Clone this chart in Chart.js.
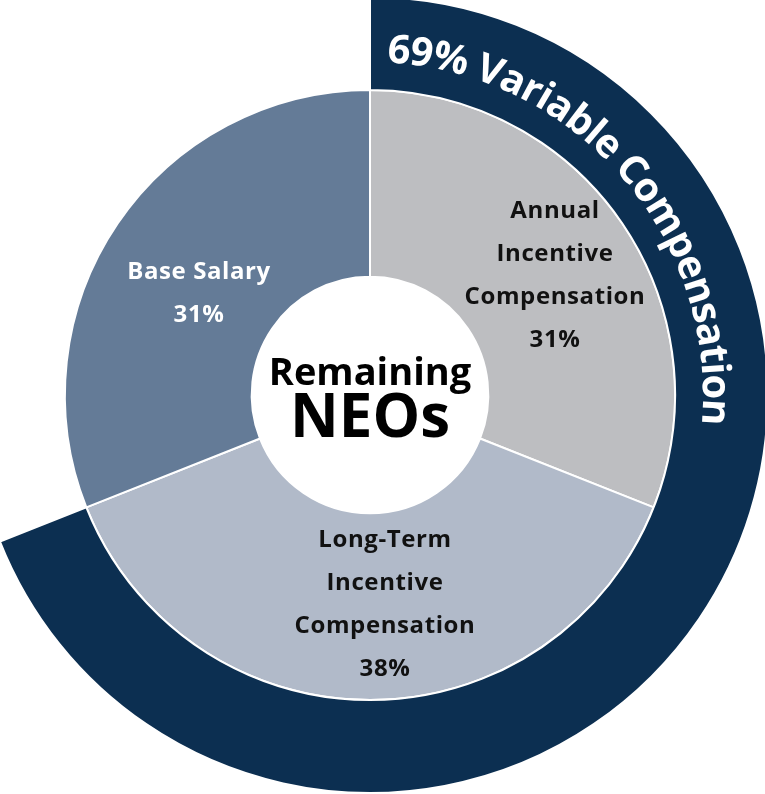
<!DOCTYPE html>
<html>
<head>
<meta charset="utf-8">
<script src="https://cdn.jsdelivr.net/npm/chart.js@4.4.1/dist/chart.umd.min.js"></script>
<style>
    html, body { margin: 0; padding: 0; background: #ffffff; overflow: hidden; width: 765px; height: 794px; }
    #wrap { position: absolute; left: -28px; top: -3px; width: 796px; height: 796px; }
</style>
</head>
<body>
<div id="wrap"><canvas id="GraficoNEOs" width="796" height="796"></canvas></div>
<script>
// pie slices, clockwise from 12 o'clock
var categorias = ["Annual Incentive Compensation", "Long-Term Incentive Compensation", "Base Salary"];
var valores = [31, 38, 31];
var rotulos = [
    ["Annual", "Incentive", "Compensation", "31%"],
    ["Long-Term", "Incentive", "Compensation", "38%"],
    ["Base Salary", "31%"]
];

// outer band
var variavel = [69, 31];
var tituloVariavel = "69% Variable Compensation";
var tituloCentro = ["Remaining", "NEOs"];

var cores = ["#bdbec1", "#b1bac9", "#647b97"];
var corVariavel = "#0c2f51";

var FONTE = "'Open Sans', 'DejaVu Sans', sans-serif";

var rotulosPlugin = {
    id: 'rotulos',
    afterDraw: function (chart) {
        var ctx = chart.ctx;
        var arco = chart.getDatasetMeta(1).data[0];
        var cx = arco.x, cy = arco.y;

        ctx.save();
        ctx.textAlign = "center";
        ctx.textBaseline = "alphabetic";

        // slice labels: [dx, first baseline dy, colour]
        var pos = [
            [185, -177, "#111111"],
            [15, 152, "#111111"],
            [-171, -116, "#ffffff"]
        ];
        ctx.font = "bold 24px " + FONTE;
        ctx.letterSpacing = "0.6px";
        for (var i = 0; i < rotulos.length; i++) {
            ctx.fillStyle = pos[i][2];
            for (var j = 0; j < rotulos[i].length; j++) {
                ctx.fillText(rotulos[i][j], cx + pos[i][0], cy + pos[i][1] + j * 43);
            }
        }
        ctx.letterSpacing = "0px";

        // centre title
        ctx.fillStyle = "#000000";
        ctx.font = "bold 38px " + FONTE;
        ctx.fillText(tituloCentro[0], cx, cy - 10);
        ctx.font = "bold 60px " + FONTE;
        ctx.fillText(tituloCentro[1], cx, cy + 42);

        // curved title along the band
        ctx.font = "bold 40px " + FONTE;
        ctx.fillStyle = "#ffffff";
        var raio = 333;
        var esp = -0.9;
        var larguras = [];
        var total = 0;
        for (var k = 0; k < tituloVariavel.length; k++) {
            var w = ctx.measureText(tituloVariavel[k]).width;
            larguras.push(w);
            total += w + (k < tituloVariavel.length - 1 ? esp : 0);
        }
        var meio = 49 * Math.PI / 180;
        var ang = meio - (total / 2) / raio;
        for (var m = 0; m < tituloVariavel.length; m++) {
            var a = ang + (larguras[m] / 2) / raio;
            ctx.save();
            ctx.translate(cx + raio * Math.sin(a), cy - raio * Math.cos(a));
            ctx.rotate(a);
            ctx.fillText(tituloVariavel[m], 0, 0);
            ctx.restore();
            ang += (larguras[m] + esp) / raio;
        }
        ctx.restore();
    }
};

var ctx = document.getElementById("GraficoNEOs").getContext("2d");
var grafico = new Chart(ctx, {
    type: 'doughnut',
    data: {
        labels: categorias,
        datasets: [
            {
                label: "Variable",
                data: variavel,
                backgroundColor: [corVariavel, "rgba(0,0,0,0)"],
                borderColor: ["#ffffff", "rgba(0,0,0,0)"],
                borderWidth: [2, 0],
                weight: 93
            },
            {
                label: "Remaining NEOs",
                data: valores,
                backgroundColor: cores,
                borderColor: "#ffffff",
                borderWidth: 2,
                weight: 187
            }
        ]
    },
    plugins: [rotulosPlugin],
    options: {
        responsive: false,
        animation: false,
        radius: 398,
        cutout: 118,
        plugins: {
            legend: { display: false },
            tooltip: { enabled: false },
            title: { display: false }
        }
    }
});
</script>
</body>
</html>
